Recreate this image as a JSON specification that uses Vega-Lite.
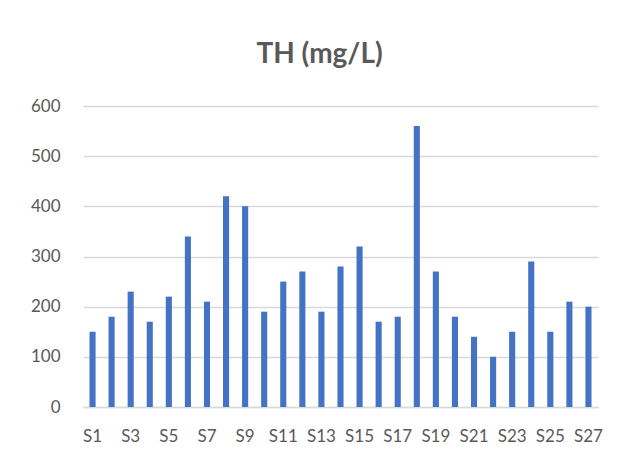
{
  "$schema": "https://vega.github.io/schema/vega-lite/v6.json",
  "width": 515,
  "height": 301,
  "autosize": {"type": "none"},
  "padding": {"left": 83, "top": 106, "right": 29, "bottom": 58},
  "background": "white",
  "title": {
    "text": "TH (mg/L)",
    "font": "Lato",
    "fontSize": 28,
    "fontWeight": "bold",
    "color": "#595959",
    "anchor": "middle",
    "baseline": "alphabetic",
    "offset": 6,
    "dx": -21
  },
  "data": {
    "values": [
      {"site": "S1", "th": 150}, {"site": "S2", "th": 180}, {"site": "S3", "th": 230},
      {"site": "S4", "th": 170}, {"site": "S5", "th": 220}, {"site": "S6", "th": 340},
      {"site": "S7", "th": 210}, {"site": "S8", "th": 420}, {"site": "S9", "th": 400},
      {"site": "S10", "th": 190}, {"site": "S11", "th": 250}, {"site": "S12", "th": 270},
      {"site": "S13", "th": 190}, {"site": "S14", "th": 280}, {"site": "S15", "th": 320},
      {"site": "S16", "th": 170}, {"site": "S17", "th": 180}, {"site": "S18", "th": 560},
      {"site": "S19", "th": 270}, {"site": "S20", "th": 180}, {"site": "S21", "th": 140},
      {"site": "S22", "th": 100}, {"site": "S23", "th": 150}, {"site": "S24", "th": 290},
      {"site": "S25", "th": 150}, {"site": "S26", "th": 210}, {"site": "S27", "th": 200}
    ]
  },
  "mark": {"type": "bar", "color": "#4472C4"},
  "encoding": {
    "x": {
      "field": "site",
      "type": "nominal",
      "sort": null,
      "scale": {"paddingInner": 0.68, "paddingOuter": 0.34},
      "axis": {
        "title": null,
        "labelAngle": 0,
        "values": ["S1","S3","S5","S7","S9","S11","S13","S15","S17","S19","S21","S23","S25","S27"],
        "ticks": false,
        "domain": true,
        "domainColor": "#D9D9D9",
        "domainWidth": 1.5,
        "labelFont": "Lato",
        "labelFontSize": 17,
        "labelColor": "#595959",
        "labelPadding": 21,
        "labelOverlap": false
      }
    },
    "y": {
      "field": "th",
      "type": "quantitative",
      "scale": {"domain": [0, 600], "nice": false},
      "axis": {
        "title": null,
        "values": [0, 100, 200, 300, 400, 500, 600],
        "ticks": false,
        "domain": false,
        "grid": true,
        "gridColor": "#D9D9D9",
        "gridWidth": 1.5,
        "labelFont": "Lato",
        "labelFontSize": 17,
        "labelColor": "#595959",
        "labelPadding": 23
      }
    }
  },
  "config": {"view": {"stroke": null}}
}
